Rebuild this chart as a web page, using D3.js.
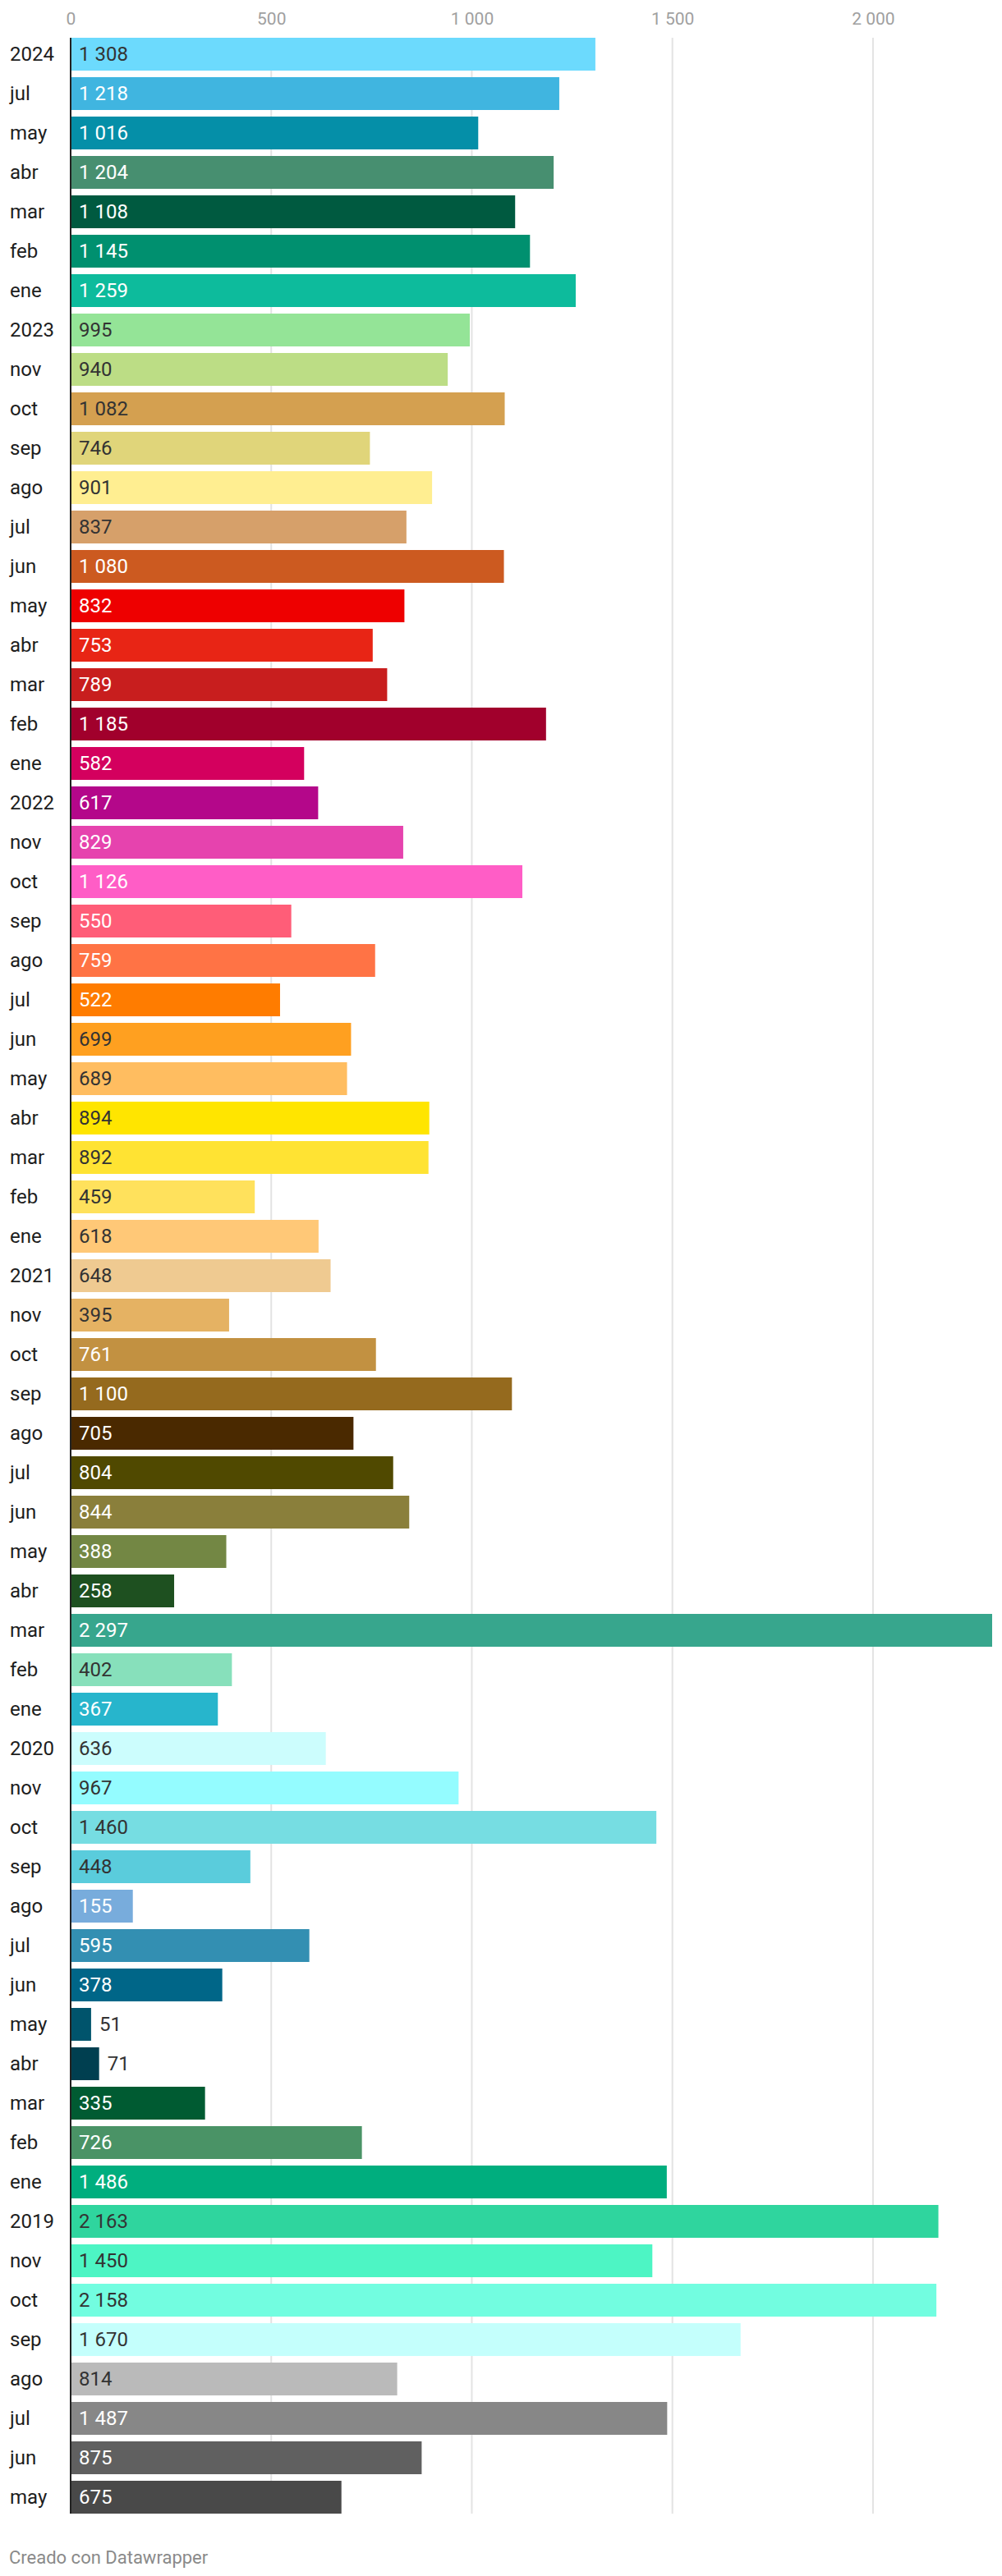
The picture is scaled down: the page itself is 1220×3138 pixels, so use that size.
<!DOCTYPE html>
<html>
<head>
<meta charset="utf-8">
<script src="https://cdn.jsdelivr.net/npm/d3@7"></script>
<style>
  html, body { margin: 0; padding: 0; background: #fff; }
  svg { display: block; font-family: Roboto, "Noto Sans", sans-serif; }
</style>
</head>
<body>
<svg id="chart" width="1220" height="3138"></svg>
<script>
const categories = ["2024","jul","may","abr","mar","feb","ene",
  "2023","nov","oct","sep","ago","jul","jun","may","abr","mar","feb","ene",
  "2022","nov","oct","sep","ago","jul","jun","may","abr","mar","feb","ene",
  "2021","nov","oct","sep","ago","jul","jun","may","abr","mar","feb","ene",
  "2020","nov","oct","sep","ago","jul","jun","may","abr","mar","feb","ene",
  "2019","nov","oct","sep","ago","jul","jun","may"];

const values = [1308,1218,1016,1204,1108,1145,1259,
  995,940,1082,746,901,837,1080,832,753,789,1185,582,
  617,829,1126,550,759,522,699,689,894,892,459,618,
  648,395,761,1100,705,804,844,388,258,2297,402,367,
  636,967,1460,448,155,595,378,51,71,335,726,1486,
  2163,1450,2158,1670,814,1487,875,675];

const barColors = ["#6cdafd","#40b5e0","#058fa8","#478f70","#005a40","#00906f","#0dbb9c",
  "#94e497","#bcdd85","#d4a050","#e0d57a","#ffee91","#d6a06a","#cc5a20","#ee0000","#e82515","#c81e1e","#a1002c","#d4005e",
  "#b4078a","#e643ae","#ff5dc6","#ff5d78","#ff7345","#ff7c00","#ffa020","#ffbd60","#ffe500","#ffe333","#ffe15c","#ffc877",
  "#efca91","#e5b263","#c29141","#956a1e","#4a2900","#504900","#8a7f3b","#738744","#1e5020","#37a68d","#87e0bb","#27b5cc",
  "#ccfdfd","#94fcff","#76dde2","#5accdc","#78acdc","#338fb2","#006688","#00546c","#003f50","#005b32","#4a9366","#00ae7e",
  "#2fd59e","#4df5c4","#72fde0","#c4fffc","#bababa","#878787","#606060","#494949"];

// label text tone on each bar: d = dark, w = white
const labelTone = "dwwwwwwddd" + "dddwwwwwww" + "wwwwwddddd" + "dddwwwwwww" + "wdwddddwww" + "ddwwwddddd" + "www";

const tickValues = [0, 500, 1000, 1500, 2000];

const fmt = d3.formatLocale({decimal: ",", thousands: " ", grouping: [3], currency: ["", ""]}).format(",d");

const svg = d3.select("#chart");
const x = d3.scaleLinear().domain([0, d3.max(values)]).range([86, 1208]);
const y = d3.scaleBand().domain(d3.range(values.length)).range([46, 3062]).paddingInner(1/6).paddingOuter(0);

// gridlines
svg.append("g").selectAll("line").data(tickValues.filter(t => t > 0)).join("line")
  .attr("x1", d => x(d)).attr("x2", d => x(d))
  .attr("y1", 46).attr("y2", 3062)
  .attr("stroke", "#e3e3e3").attr("stroke-width", 2);

// top tick labels via axis
const axis = d3.axisTop(x).tickValues(tickValues).tickSize(0).tickPadding(0).tickFormat(fmt);
const ag = svg.append("g").attr("transform", "translate(0,30)").call(axis);
ag.select(".domain").remove();
ag.selectAll("text").attr("font-size", 21).attr("fill", "#a0a0a0")
  .attr("font-family", "Roboto, sans-serif").attr("dy", "0");

// bars
svg.append("g").selectAll("rect").data(values).join("rect")
  .attr("x", x(0))
  .attr("y", (d, i) => y(i))
  .attr("width", d => x(d) - x(0))
  .attr("height", y.bandwidth())
  .attr("fill", (d, i) => barColors[i]);

// baseline
svg.append("line").attr("x1", x(0)).attr("x2", x(0)).attr("y1", 46).attr("y2", 3062)
  .attr("stroke", "#222").attr("stroke-width", 2);

// category labels
svg.append("g").selectAll("text").data(categories).join("text")
  .attr("x", 12)
  .attr("y", (d, i) => y(i) + y.bandwidth() / 2)
  .attr("dy", "0.35em")
  .attr("font-size", 24).attr("fill", "#1d1d1d")
  .text(d => d);

// value labels
svg.append("g").selectAll("text").data(values).join("text")
  .attr("x", d => {
    const w = x(d) - x(0);
    return w < 60 ? x(d) + 10 : x(0) + 10;
  })
  .attr("y", (d, i) => y(i) + y.bandwidth() / 2)
  .attr("dy", "0.35em")
  .attr("font-size", 24)
  .attr("fill", (d, i) => {
    const w = x(d) - x(0);
    if (w < 60) return "#333";
    return labelTone[i] === "w" ? "#ffffff" : "#333333";
  })
  .text(d => fmt(d));

// footer
svg.append("text").attr("x", 11).attr("y", 3123)
  .attr("font-size", 22).attr("fill", "#8a8a8a")
  .text("Creado con Datawrapper");
</script>
</body>
</html>
